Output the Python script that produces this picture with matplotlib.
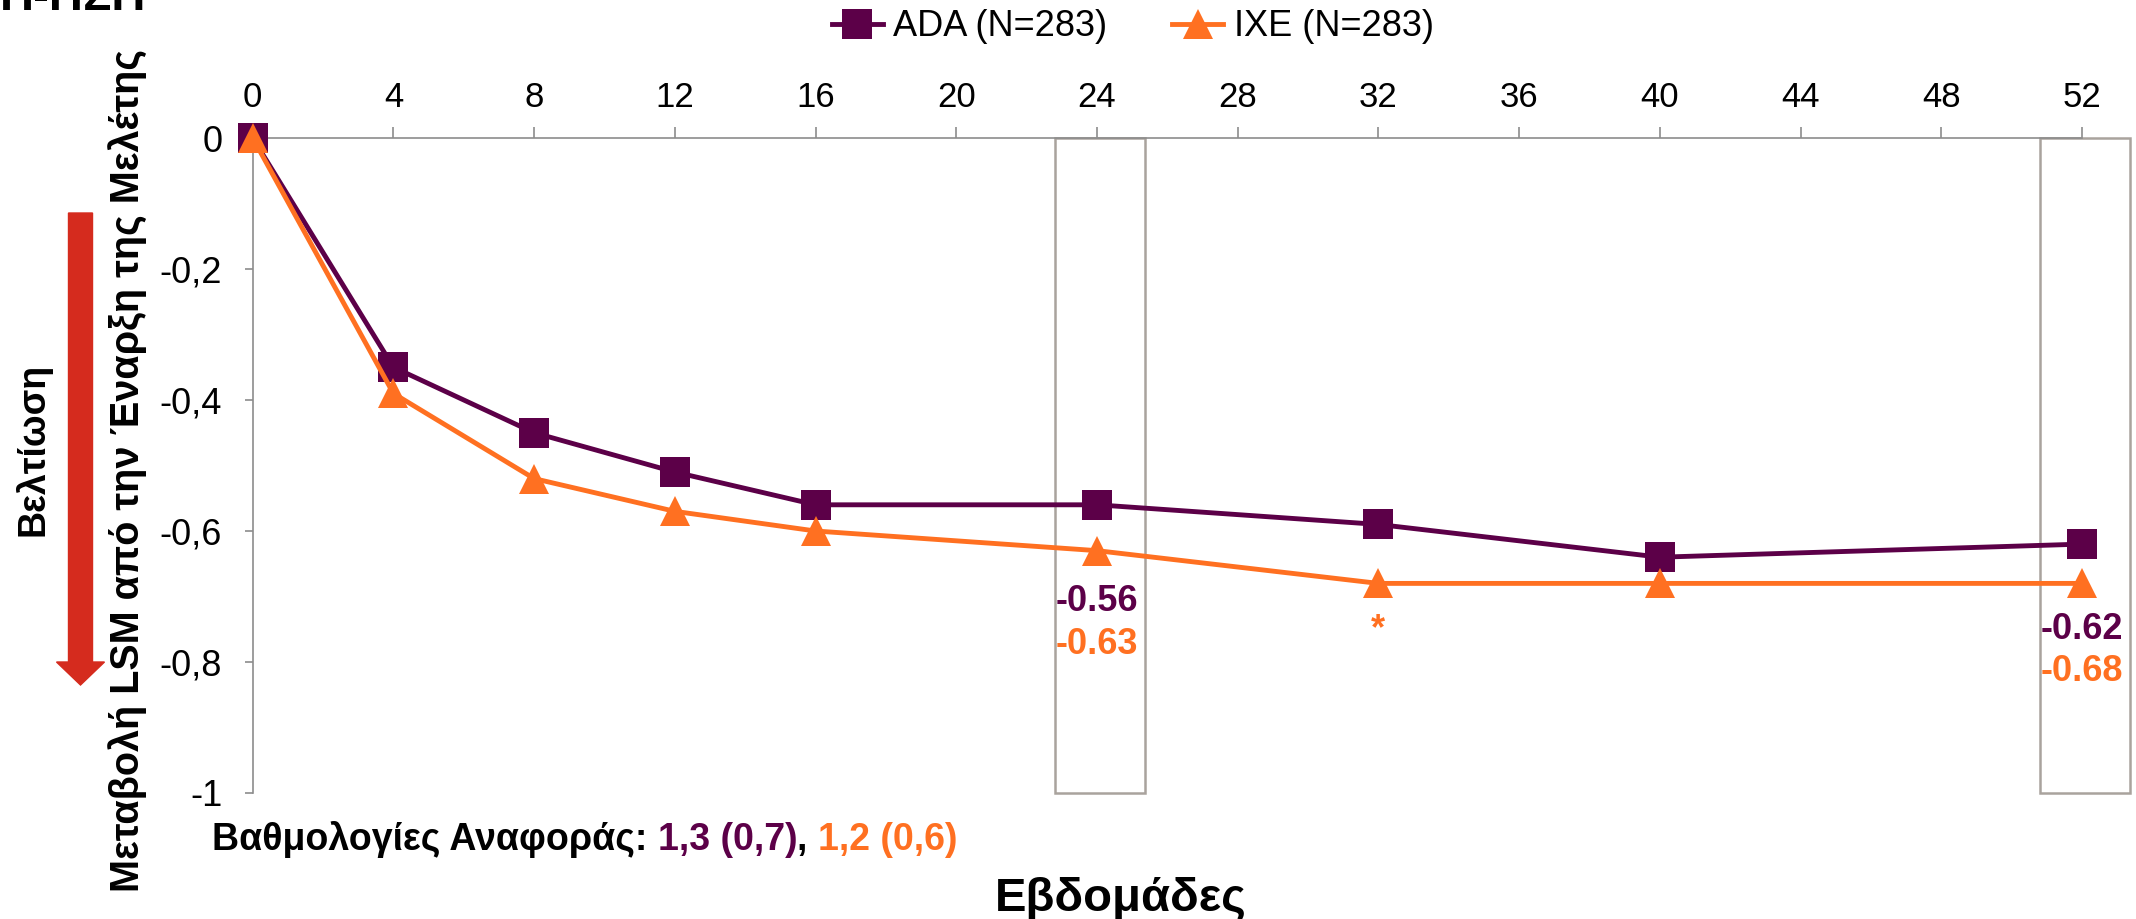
import matplotlib
matplotlib.use("Agg")
import matplotlib.pyplot as plt
from matplotlib.patches import Rectangle, FancyArrow
from matplotlib.ticker import FixedLocator, FixedFormatter

# Data: LSM change from baseline by study week
weeks = [0, 4, 8, 12, 16, 24, 32, 40, 52]
ada = [0.0, -0.35, -0.45, -0.51, -0.56, -0.56, -0.59, -0.64, -0.62]
ixe = [0.0, -0.39, -0.52, -0.57, -0.60, -0.63, -0.68, -0.68, -0.68]
series_names = ["ADA (N=283)", "IXE (N=283)"]

x_ticks = list(range(0, 53, 4))
y_ticks = [0, -0.2, -0.4, -0.6, -0.8, -1]
y_tick_labels = ["0", "-0,2", "-0,4", "-0,6", "-0,8", "-1"]

# Highlighted weeks with their labelled values
highlight_weeks = [24, 52]
ada_labels = {24: -0.56, 52: -0.62}
ixe_labels = {24: -0.63, 52: -0.68}
star_week = 32

baseline_ada = "1,3 (0,7)"
baseline_ixe = "1,2 (0,6)"

PURPLE = "#5C0048"
ORANGE = "#FF7021"
AXIS_GREY = "#8C8C8C"
BOX_GREY = "#A9A39D"
RED = "#D52B1E"

REGULAR = ["Liberation Sans", "DejaVu Sans"]
plt.rcParams["font.family"] = REGULAR

W, H = 2136, 919
fig = plt.figure(figsize=(W / 100, H / 100), dpi=100)


def fx(px):
    return px / W


def fy(py):
    return 1 - py / H


ax = fig.add_axes([fx(252.7), fy(793), fx(2082) - fx(252.7), fy(138) - fy(793)])
ax.set_xlim(0, 52)
ax.set_ylim(-1, 0)

for s in ("bottom", "right"):
    ax.spines[s].set_visible(False)
for s in ("top", "left"):
    ax.spines[s].set_color(AXIS_GREY)
    ax.spines[s].set_linewidth(1.2)

ax.xaxis.tick_top()
ax.xaxis.set_major_locator(FixedLocator(x_ticks))
ax.tick_params(axis="x", direction="out", length=8, width=1.2, color=AXIS_GREY,
               labelsize=25, pad=9)
ax.yaxis.set_major_locator(FixedLocator(y_ticks))
ax.yaxis.set_major_formatter(FixedFormatter(y_tick_labels))
ax.tick_params(axis="y", direction="out", length=6, width=1.2, color=AXIS_GREY,
               labelsize=26, pad=16)

l1, = ax.plot(weeks, ada, color=PURPLE, lw=3.5, marker="s", ms=21,
              markeredgewidth=0, zorder=3, clip_on=False)
l2, = ax.plot(weeks, ixe, color=ORANGE, lw=3.5, marker="^", ms=21,
              markeredgewidth=0, zorder=4, clip_on=False)

# Highlight boxes around weeks 24 and 52, with the values at those weeks
label_y = {24: (-0.708, -0.773), 52: (-0.750, -0.815)}
for wk in highlight_weeks:
    ax.add_patch(Rectangle((wk - 1.18, -1), 2.55, 1.0, fill=False,
                           edgecolor=BOX_GREY, lw=1.8, zorder=2, clip_on=False))
    ya, yi = label_y[wk]
    ax.text(wk, ya, f"{ada_labels[wk]:.2f}", ha="center", va="center",
            color=PURPLE, fontsize=26, fontweight="bold")
    ax.text(wk, yi, f"{ixe_labels[wk]:.2f}", ha="center", va="center",
            color=ORANGE, fontsize=26, fontweight="bold")

ax.text(star_week, -0.75, "*", ha="center", va="center", color=ORANGE,
        fontsize=26, fontweight="bold")

# Legend
fig.legend([l1, l2], series_names, loc="center", bbox_to_anchor=(0.5304, fy(27)),
           ncol=2, frameon=False, handlelength=1.4, handletextpad=0.3,
           columnspacing=1.8, prop={"size": 26})

# Axis titles
fig.text(fx(128), fy(470), "Μεταβολή LSM από την Έναρξη της Μελέτης",
         rotation=90, ha="center", va="center", fontsize=28.5,
         fontweight="bold")
fig.text(fx(1121), fy(899), "Εβδομάδες", ha="center", va="center",
         fontsize=34, fontweight="bold")

# Improvement arrow
fig.add_artist(FancyArrow(fx(80.5), fy(213), 0, fy(685) - fy(213),
                          width=fx(24), head_width=fx(48),
                          head_length=(fy(662) - fy(685)),
                          length_includes_head=True, color=RED,
                          transform=fig.transFigure))
fig.text(fx(33), fy(449), "Βελτίωση", rotation=90, ha="center", va="center",
         fontsize=27, fontweight="bold")

# Baseline scores line
parts = [("Βαθμολογίες Αναφοράς: ", "black"), (baseline_ada, PURPLE),
         (", ", "black"), (baseline_ixe, ORANGE)]
t = fig.text(fx(212), fy(850), parts[0][0], ha="left", va="baseline",
             fontsize=27, fontweight="bold", color=parts[0][1])
for txt, col in parts[1:]:
    t = ax.annotate(txt, xycoords=t, xy=(1, 0), va="bottom", ha="left",
                    fontsize=27, fontweight="bold", color=col,
                    annotation_clip=False)

# Heading running off the top edge
fig.text(0.0, fy(10), "Η-ΗΣΗ", ha="left", va="baseline", fontsize=34,
         fontweight="bold")

fig.savefig("out.png", dpi=100)
